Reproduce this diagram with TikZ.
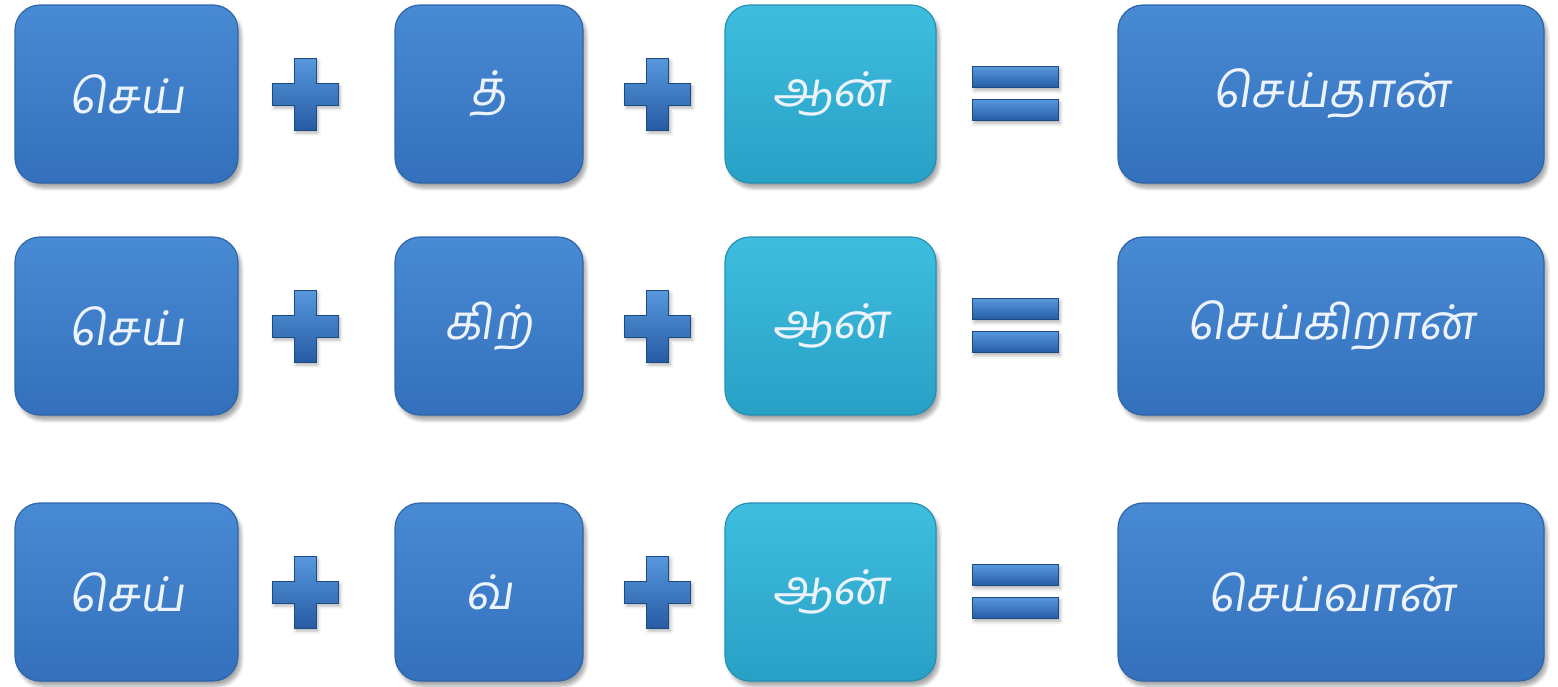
\documentclass[tikz,border=0pt]{standalone}
\usepackage{fontspec}
\newfontfamily\tamil[Script=Tamil,FakeSlant=0.15]{Hind Madurai}
\usepackage{tikz}
\usetikzlibrary{positioning,shadows.blur}
\definecolor{boxtop}{RGB}{72,138,212}
\definecolor{boxbot}{RGB}{52,112,188}
\definecolor{cyantop}{RGB}{62,190,222}
\definecolor{cyanbot}{RGB}{40,160,198}
\definecolor{signtop}{RGB}{88,152,220}
\definecolor{signbot}{RGB}{38,92,165}
\definecolor{wordwhite}{RGB}{236,243,252}

\begin{document}
\begin{tikzpicture}[x=0.5pt, y=-0.5pt,
    box/.style={rectangle, rounded corners=12.5pt, minimum height=89pt,
        top color=boxtop, bottom color=boxbot, draw=boxbot!90!black, line width=0.6pt,
        text=wordwhite, font=\tamil\fontsize{24}{29}\selectfont,
        blur shadow={shadow xshift=1.5pt, shadow yshift=-2.5pt, shadow blur steps=6, shadow opacity=35}},
    suffix/.style={box, top color=cyantop, bottom color=cyanbot, draw=cyanbot!90!black},
    sign/.style={top color=signtop, bottom color=signbot, draw=signbot!80!black, line width=0.5pt,
        blur shadow={shadow xshift=1pt, shadow yshift=-1.5pt, shadow blur steps=4, shadow opacity=30}},
    bar/.style={sign, rectangle, inner sep=0pt, minimum width=43pt, minimum height=10.5pt}]
\useasboundingbox (0,0) rectangle (1558,686);

% row 1
\node[box, minimum width=111.5pt] (stem1) at (126.5,94) {செய்};
\node[box, minimum width=94pt] (mid1) at (489,94) {த்};
\node[suffix, minimum width=105.5pt] (end1) at (830.5,94) {ஆன்};
\node[box, minimum width=213pt] (word1) at (1331,94) {செய்தான்};

% row 2
\node[box, minimum width=111.5pt] (stem2) at (126.5,326) {செய்};
\node[box, minimum width=94pt] (mid2) at (489,326) {கிற்};
\node[suffix, minimum width=105.5pt] (end2) at (830.5,326) {ஆன்};
\node[box, minimum width=213pt] (word2) at (1331,326) {செய்கிறான்};

% row 3
\node[box, minimum width=111.5pt] (stem3) at (126.5,592) {செய்};
\node[box, minimum width=94pt] (mid3) at (489,592) {வ்};
\node[suffix, minimum width=105.5pt] (end3) at (830.5,592) {ஆன்};
\node[box, minimum width=213pt] (word3) at (1331,592) {செய்வான்};

% plus and equals signs
\foreach \r/\y in {1/94,2/326,3/592} {
    \coordinate (plusa\r) at (305,\y);
    \coordinate (plusb\r) at (657.5,\y);
    \foreach \p in {plusa\r,plusb\r}
        \path[sign] (\p) ++(-33,-11) -- ++(22,0) -- ++(0,-25) -- ++(22,0) -- ++(0,25)
            -- ++(22,0) -- ++(0,22) -- ++(-22,0) -- ++(0,25) -- ++(-22,0) -- ++(0,-25)
            -- ++(-22,0) -- cycle;
    \node[bar] (eqa\r) at (1015,\y-17) {};
    \node[bar] (eqb\r) at (1015,\y+16) {};
}
\end{tikzpicture}
\end{document}
